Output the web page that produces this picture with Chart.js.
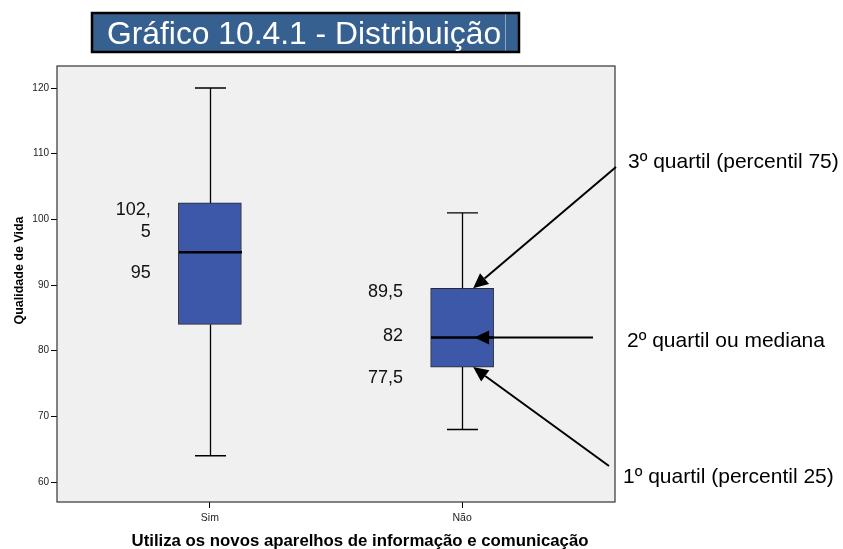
<!DOCTYPE html>
<html>
<head>
<meta charset="utf-8">
<script src="https://cdn.jsdelivr.net/npm/chart.js@4.4.1/dist/chart.umd.min.js"></script>
<style>
  html, body { margin: 0; padding: 0; background: #fff; }
  #wrap { width: 843px; height: 549px; }
</style>
</head>
<body>
<div id="wrap"><canvas id="boxChart" width="843" height="549"></canvas></div>
<script>
const categories = ['Sim', 'Não'];
const minValues = [64, 68];
const q1Values = [84, 77.5];
const medianValues = [95, 82];
const q3Values = [102.5, 89.5];
const maxValues = [120, 101];
const yTickValues = [60, 70, 80, 90, 100, 110, 120];
const chartTitle = 'Gráfico 10.4.1 - Distribuição';
const yTitle = 'Qualidade de Vida';
const xTitle = 'Utiliza os novos aparelhos de informação e comunicação';
const quartilNotes = ['3º quartil (percentil 75)', '2º quartil ou mediana', '1º quartil (percentil 25)'];

const FONT = 'Arial, "Liberation Sans", sans-serif';

function fmt(v) {
    return String(v).replace('.', ',');
}

// which values get a text label next to the box, and how far (px) the text sits from the value
const valueLabels = [
    { cat: 0, values: q3Values, dy: 18.5 },
    { cat: 0, values: medianValues, dy: 21 },
    { cat: 1, values: q3Values, dy: 4 },
    { cat: 1, values: medianValues, dy: -2 },
    { cat: 1, values: q1Values, dy: 11 }
];

function drawArrow(ctx, x1, y1, x2, y2) {
    const ang = Math.atan2(y2 - y1, x2 - x1);
    const len = 15, half = 7;
    const bx = x2 - Math.cos(ang) * len;
    const by = y2 - Math.sin(ang) * len;
    ctx.beginPath();
    ctx.moveTo(x1, y1);
    ctx.lineTo(bx, by);
    ctx.stroke();
    ctx.beginPath();
    ctx.moveTo(x2, y2);
    ctx.lineTo(bx - Math.sin(ang) * half, by + Math.cos(ang) * half);
    ctx.lineTo(bx + Math.sin(ang) * half, by - Math.cos(ang) * half);
    ctx.closePath();
    ctx.fill();
}

const boxPlotPlugin = {
    id: 'boxPlot',
    beforeDraw(chart) {
        const { ctx, chartArea: a } = chart;
        ctx.save();
        ctx.fillStyle = '#f0f0f0';
        ctx.fillRect(a.left, a.top, a.right - a.left, a.bottom - a.top);
        ctx.restore();
    },
    afterDatasetsDraw(chart) {
        const { ctx, scales: { x, y } } = chart;
        ctx.save();
        ctx.strokeStyle = '#000';
        categories.forEach((c, i) => {
            const cx = Math.round(x.getPixelForValue(i)) + 0.5;
            // whiskers
            ctx.lineWidth = 1.3;
            ctx.beginPath();
            ctx.moveTo(cx, y.getPixelForValue(q3Values[i]));
            ctx.lineTo(cx, y.getPixelForValue(maxValues[i]));
            ctx.moveTo(cx, y.getPixelForValue(q1Values[i]));
            ctx.lineTo(cx, y.getPixelForValue(minValues[i]));
            ctx.moveTo(cx - 15.5, y.getPixelForValue(maxValues[i]));
            ctx.lineTo(cx + 15.5, y.getPixelForValue(maxValues[i]));
            ctx.moveTo(cx - 15.5, y.getPixelForValue(minValues[i]));
            ctx.lineTo(cx + 15.5, y.getPixelForValue(minValues[i]));
            ctx.stroke();
            // median
            ctx.lineWidth = 2.5;
            ctx.beginPath();
            ctx.moveTo(cx - 31.5, y.getPixelForValue(medianValues[i]));
            ctx.lineTo(cx + 31.5, y.getPixelForValue(medianValues[i]));
            ctx.stroke();
        });
        ctx.restore();
    },
    afterDraw(chart) {
        const { ctx, chartArea: a, scales: { x, y } } = chart;
        ctx.save();

        // plot frame
        ctx.strokeStyle = '#333';
        ctx.lineWidth = 1.2;
        ctx.strokeRect(a.left, a.top, a.right - a.left, a.bottom - a.top);

        // value labels beside the boxes
        ctx.fillStyle = '#111';
        ctx.font = '18px ' + FONT;
        ctx.textAlign = 'right';
        ctx.textBaseline = 'middle';
        valueLabels.forEach(l => {
            const txt = fmt(l.values[l.cat]);
            const lines = txt.length > 4 ? [txt.slice(0, txt.indexOf(',') + 1), txt.slice(txt.indexOf(',') + 1)] : [txt];
            const rx = x.getPixelForValue(l.cat) - 59;
            const cy = y.getPixelForValue(l.values[l.cat]) + l.dy;
            lines.forEach((t, k) => {
                ctx.fillText(t, rx, cy + (k - (lines.length - 1) / 2) * 22);
            });
        });

        // arrows pointing at the Não box
        const nx = x.getPixelForValue(1);
        ctx.strokeStyle = '#000';
        ctx.fillStyle = '#000';
        ctx.lineWidth = 2;
        drawArrow(ctx, 616, 167, nx + 11, y.getPixelForValue(q3Values[1]));
        drawArrow(ctx, 593, y.getPixelForValue(medianValues[1]), nx + 12, y.getPixelForValue(medianValues[1]));
        drawArrow(ctx, 609, 466, nx + 11, y.getPixelForValue(q1Values[1]));

        // quartile notes
        ctx.fillStyle = '#000';
        ctx.font = '21px ' + FONT;
        ctx.textAlign = 'left';
        ctx.fillText(quartilNotes[0], 628, 162);
        ctx.fillText(quartilNotes[1], 627, 341);
        ctx.fillText(quartilNotes[2], 623, 477);

        // axis titles
        ctx.font = 'bold 16.8px ' + FONT;
        ctx.textAlign = 'center';
        ctx.fillText(xTitle, 360, 541);
        ctx.save();
        ctx.translate(20, 270.5);
        ctx.rotate(-Math.PI / 2);
        ctx.font = 'bold 12.5px ' + FONT;
        ctx.fillText(yTitle, 0, 0);
        ctx.restore();

        // title box
        ctx.fillStyle = '#35608f';
        ctx.fillRect(92, 13, 427, 39);
        ctx.strokeStyle = '#000';
        ctx.lineWidth = 2.5;
        ctx.strokeRect(92, 13, 427, 39);
        ctx.strokeStyle = '#8aa6c4';
        ctx.lineWidth = 1;
        ctx.beginPath();
        ctx.moveTo(505.5, 14.5);
        ctx.lineTo(505.5, 50.5);
        ctx.stroke();
        ctx.fillStyle = '#fff';
        ctx.font = '31.8px ' + FONT;
        ctx.textAlign = 'left';
        ctx.textBaseline = 'alphabetic';
        ctx.fillText(chartTitle, 107, 44);

        ctx.restore();
    }
};

const ctx = document.getElementById('boxChart').getContext('2d');
const boxChart = new Chart(ctx, {
    type: 'bar',
    data: {
        datasets: [{
            label: 'Qualidade de Vida',
            data: categories.map((c, i) => ({ x: i, y: [q1Values[i], q3Values[i]] })),
            backgroundColor: '#3d58a9',
            borderColor: '#2b2b2b',
            borderWidth: 1,
            borderSkipped: false,
            barThickness: 63
        }]
    },
    options: {
        responsive: false,
        animation: false,
        layout: { padding: { top: 66, right: 228, left: 0, bottom: 0 } },
        plugins: {
            legend: { display: false },
            tooltip: { enabled: false }
        },
        scales: {
            x: {
                type: 'linear',
                offset: false,
                min: -0.606,
                max: 1.606,
                afterBuildTicks: s => { s.ticks = categories.map((c, i) => ({ value: i })); },
                afterFit: s => { s.height = 47; },
                ticks: {
                    callback: v => categories[v],
                    color: '#222',
                    font: { family: FONT, size: 10.5 },
                    padding: 4,
                    maxRotation: 0
                },
                grid: { offset: false, drawOnChartArea: false, drawTicks: true, tickLength: 6, color: '#000' },
                border: { display: false }
            },
            y: {
                min: 56.96,
                max: 123.35,
                afterBuildTicks: s => { s.ticks = yTickValues.map(v => ({ value: v })); },
                afterFit: s => { s.width = 57; },
                ticks: {
                    color: '#222',
                    font: { family: FONT, size: 10 },
                    padding: 2
                },
                grid: { drawOnChartArea: false, drawTicks: true, tickLength: 6, color: '#000' },
                border: { display: false }
            }
        }
    },
    plugins: [boxPlotPlugin]
});
</script>
</body>
</html>
